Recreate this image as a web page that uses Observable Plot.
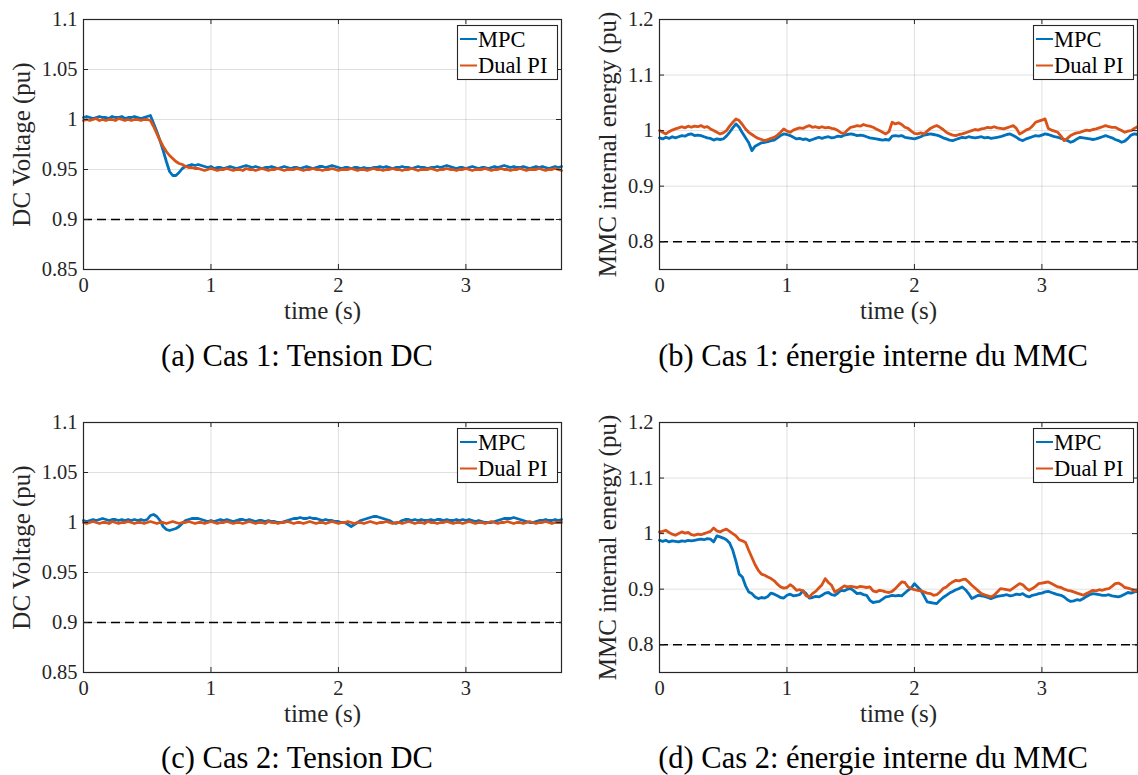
<!DOCTYPE html>
<html>
<head>
<meta charset="utf-8">
<script src="https://cdn.jsdelivr.net/npm/d3@7"></script>
<script src="https://cdn.jsdelivr.net/npm/@observablehq/plot@0.6"></script>
<style>
  html, body { margin: 0; padding: 0; background: #fff; }
  body { width: 1138px; height: 775px; position: relative; overflow: hidden; font-family: "Liberation Serif", serif; }
  .panel { position: absolute; width: 569px; height: 330px; }
  .caption { position: absolute; font-size: 30.5px; line-height: 34px; color: #000; white-space: nowrap; transform: translate(-50%, -50%); }
</style>
</head>
<body>
<script>
// ---------- data (sampled every 0.025 s, t = 0 … 3.75 s) ----------
const sampleStep = 0.025;
const seriesNames = ["MPC", "Dual PI"];
const seriesColors = ["#0072BD", "#D95319"];
const timeTicks = [0, 1, 2, 3];
const voltageTicks = [0.85, 0.9, 0.95, 1, 1.05, 1.1];
const energyTicks = [0.8, 0.9, 1, 1.1, 1.2];
const voltageLimit = 0.9;
const energyLimit = 0.8;
const captions = [
  "(a) Cas 1: Tension DC",
  "(b) Cas 1: énergie interne du MMC",
  "(c) Cas 2: Tension DC",
  "(d) Cas 2: énergie interne du MMC"
];

// (a) Cas 1 – DC voltage
const case1VoltageMPC = [
  1.002,1.003,1.002,1.001,1.002,1.003,1.002,1.002,1.001,1.003,
  1.002,1.002,1.003,1.001,1.002,1.002,1.003,1.002,1.001,1.002,
  1.003,1.004,0.996,0.988,0.979,0.969,0.958,0.948,0.944,0.944,
  0.947,0.951,0.953,0.954,0.955,0.954,0.955,0.954,0.953,
  0.952,0.953,0.951,0.952,0.952,0.951,0.952,0.953,0.952,0.951,
  0.952,0.953,0.954,0.953,0.952,0.953,0.952,0.951,0.952,0.952,
  0.953,0.952,0.951,0.952,0.953,0.952,0.951,0.952,0.952,0.951,
  0.952,0.953,0.952,0.951,0.952,0.953,0.953,0.952,0.953,0.954,
  0.953,0.952,0.951,0.952,0.952,0.951,0.952,0.952,0.951,0.952,
  0.951,0.951,0.952,0.952,0.953,0.952,0.953,0.952,0.951,0.952,
  0.952,0.953,0.952,0.952,0.951,0.952,0.953,0.952,0.952,0.951,
  0.952,0.952,0.953,0.952,0.953,0.954,0.953,0.952,0.951,0.952,
  0.952,0.951,0.952,0.953,0.952,0.951,0.952,0.952,0.951,0.952,
  0.953,0.952,0.953,0.954,0.953,0.952,0.953,0.952,0.952,0.953,
  0.952,0.951,0.952,0.953,0.952,0.953,0.952,0.951,0.952,0.953,
  0.952,0.953
];
const case1VoltageDualPI = [
  0.999,1.000,0.999,1.000,1.001,0.999,1.000,0.999,1.000,1.000,
  0.999,1.001,1.000,0.999,1.000,0.999,1.000,1.000,0.999,1.000,1.000,
  0.999,0.993,0.986,0.979,0.973,0.968,0.964,0.961,0.958,0.956,0.955,0.953,0.952,0.952,0.951,0.951,
  0.950,0.949,0.950,0.951,0.950,0.949,0.950,0.950,0.951,0.950,
  0.949,0.950,0.950,0.949,0.951,0.950,0.950,0.949,0.950,0.951,
  0.950,0.949,0.950,0.950,0.951,0.950,0.949,0.950,0.950,0.950,
  0.951,0.950,0.949,0.950,0.950,0.951,0.950,0.950,0.949,0.950,
  0.950,0.951,0.950,0.949,0.950,0.950,0.950,0.951,0.950,0.949,
  0.950,0.950,0.949,0.950,0.951,0.950,0.950,0.949,0.950,0.950,
  0.951,0.950,0.950,0.949,0.950,0.950,0.951,0.950,0.949,0.950,
  0.950,0.950,0.951,0.950,0.949,0.950,0.950,0.951,0.950,0.950,
  0.949,0.950,0.950,0.951,0.950,0.949,0.950,0.950,0.950,0.951,
  0.950,0.949,0.950,0.950,0.951,0.950,0.950,0.949,0.950,0.950,
  0.951,0.950,0.949,0.950,0.950,0.950,0.951,0.950,0.949,0.950,
  0.950,0.951,0.950,0.949
];

// (b) Cas 1 – MMC internal energy
const case1EnergyMPC = [
  0.987,0.985,0.988,0.986,0.989,0.987,0.989,0.991,0.990,0.993,
  0.994,0.991,0.992,0.991,0.989,0.987,0.986,0.983,0.985,0.984,
  0.985,0.990,0.997,1.005,1.012,1.006,0.996,0.987,0.978,0.964,
  0.972,0.975,0.978,0.979,0.980,0.982,0.983,0.987,0.991,0.994,
  0.993,0.991,0.988,0.985,0.986,0.984,0.985,0.982,0.984,0.986,
  0.988,0.986,0.988,0.989,0.987,0.988,0.990,0.989,0.992,0.993,
  0.994,0.993,0.991,0.992,0.991,0.989,0.987,0.986,0.985,0.984,
  0.983,0.984,0.983,0.990,0.991,0.990,0.991,0.988,0.987,0.986,
  0.985,0.987,0.989,0.992,0.993,0.994,0.993,0.992,0.990,0.987,
  0.985,0.983,0.982,0.984,0.986,0.988,0.987,0.989,0.988,0.987,
  0.988,0.989,0.987,0.988,0.986,0.987,0.988,0.989,0.991,0.993,
  0.994,0.991,0.988,0.984,0.982,0.985,0.987,0.989,0.991,0.990,
  0.992,0.994,0.993,0.991,0.989,0.988,0.986,0.984,0.982,0.979,
  0.981,0.985,0.988,0.987,0.986,0.985,0.984,0.985,0.987,0.989,
  0.991,0.989,0.987,0.984,0.982,0.979,0.981,0.986,0.992,0.994,
  0.993
];
const case1EnergyDualPI = [
  1.000,0.997,0.994,0.998,1.001,1.003,1.005,1.007,1.005,1.008,
  1.006,1.008,1.007,1.009,1.006,1.007,1.003,1.000,0.997,0.994,
  0.996,1.000,1.008,1.015,1.021,1.018,1.011,1.003,0.997,0.993,
  0.989,0.986,0.984,0.982,0.984,0.986,0.988,0.992,0.997,1.003,
  0.999,0.997,1.001,1.003,1.005,1.004,1.007,1.009,1.006,1.007,
  1.005,1.007,1.005,1.006,1.004,1.003,1.000,0.996,0.995,1.001,
  1.006,1.007,1.009,1.008,1.011,1.009,1.008,1.006,1.003,1.000,
  0.997,0.994,0.998,1.015,1.012,1.014,1.011,1.006,1.004,0.999,
  0.995,0.994,0.996,0.994,0.999,1.004,1.007,1.009,1.006,1.002,
  0.997,0.994,0.992,0.991,0.993,0.994,0.996,0.998,1.000,1.002,
  1.001,1.003,1.004,1.006,1.005,1.007,1.005,1.004,1.003,1.005,
  1.007,1.009,1.004,0.994,0.997,1.001,1.003,1.008,1.015,1.017,
  1.019,1.021,1.004,1.001,0.999,0.997,0.990,0.982,0.986,0.991,
  0.994,0.996,0.997,0.999,1.001,1.000,1.002,1.003,1.005,1.007,
  1.009,1.007,1.006,1.006,1.003,1.000,0.997,0.999,1.000,1.004,
  1.007
];

// (c) Cas 2 – DC voltage
const case2VoltageMPC = [
  1.002,1.001,1.002,1.003,1.002,1.003,1.004,1.003,1.002,1.003,
  1.003,1.002,1.003,1.002,1.003,1.002,1.003,1.002,1.003,1.002,
  1.003,1.007,1.008,1.006,1.002,0.996,0.993,0.992,0.993,0.994,
  0.996,0.999,1.002,1.003,1.004,1.004,1.004,1.003,1.002,1.001,
  1.002,1.001,1.002,1.003,1.002,1.003,1.002,1.001,1.002,1.003,
  1.003,1.002,1.003,1.002,1.001,1.002,1.002,1.001,1.002,1.001,
  1.001,1.000,1.000,1.001,1.002,1.003,1.004,1.004,1.005,1.004,
  1.004,1.005,1.004,1.004,1.003,1.002,1.003,1.002,1.002,1.001,
  1.001,1.000,1.000,0.998,0.996,0.998,1.000,1.002,1.003,1.004,
  1.005,1.006,1.006,1.005,1.004,1.003,1.002,1.000,0.999,1.000,
  1.002,1.003,1.003,1.002,1.003,1.002,1.003,1.002,1.002,1.003,
  1.002,1.003,1.003,1.002,1.003,1.002,1.002,1.003,1.002,1.003,
  1.002,1.003,1.002,1.001,1.002,1.001,1.000,1.000,1.000,1.001,
  1.002,1.003,1.004,1.004,1.004,1.005,1.004,1.003,1.002,1.001,
  1.000,1.000,1.001,1.002,1.002,1.003,1.002,1.002,1.003,1.002,
  1.003
];
const case2VoltageDualPI = [
  1.000,0.999,1.000,1.001,1.000,0.999,1.000,1.000,0.999,1.001,
  1.000,0.999,1.000,1.000,1.001,1.000,0.999,1.000,1.000,0.999,
  1.000,1.001,1.000,0.999,1.000,1.000,0.999,1.000,1.001,1.000,
  0.999,1.000,1.000,1.001,1.000,0.999,1.000,1.000,0.999,1.000,
  1.001,1.000,0.999,1.000,1.000,1.001,1.000,0.999,1.000,1.000,
  0.999,1.000,1.001,1.000,0.999,1.000,1.000,0.999,1.001,1.000,
  1.000,0.999,1.000,1.000,1.001,1.000,0.999,1.000,1.000,0.999,
  1.000,1.001,1.000,0.999,1.000,1.000,0.999,1.000,1.001,1.000,
  0.999,1.000,1.000,1.001,1.000,0.999,1.000,1.000,0.999,1.000,
  1.001,1.000,0.999,1.000,1.000,1.001,1.000,0.999,1.000,1.000,
  0.999,1.000,1.001,1.000,0.999,1.000,1.000,0.999,1.001,1.000,
  1.000,0.999,1.000,1.000,1.001,1.000,0.999,1.000,1.000,0.999,
  1.000,1.001,1.000,0.999,1.000,1.000,0.999,1.000,1.001,1.000,
  0.999,1.000,1.000,1.001,1.000,0.999,1.000,1.000,0.999,1.000,
  1.001,1.000,0.999,1.000,1.000,1.001,1.000,0.999,1.000,1.000,
  1.000
];

// (d) Cas 2 – MMC internal energy
const case2EnergyMPC = [
  0.988,0.986,0.988,0.985,0.987,0.986,0.985,0.987,0.986,0.988,
  0.987,0.988,0.989,0.990,0.989,0.991,0.990,0.985,0.996,0.994,
  0.992,0.989,0.983,0.970,0.950,0.927,0.922,0.906,0.895,0.892,
  0.886,0.883,0.885,0.884,0.887,0.893,0.891,0.888,0.885,0.884,
  0.889,0.891,0.888,0.889,0.890,0.897,0.892,0.884,0.885,0.887,
  0.886,0.889,0.893,0.894,0.890,0.889,0.893,0.898,0.897,0.900,
  0.901,0.897,0.892,0.893,0.890,0.889,0.880,0.876,0.877,0.878,
  0.882,0.886,0.887,0.889,0.888,0.889,0.888,0.893,0.898,0.902,
  0.910,0.904,0.898,0.888,0.877,0.876,0.875,0.874,0.880,0.885,
  0.889,0.893,0.896,0.899,0.901,0.904,0.899,0.892,0.883,0.886,
  0.889,0.888,0.887,0.885,0.883,0.885,0.887,0.888,0.889,0.890,
  0.888,0.889,0.891,0.890,0.892,0.888,0.886,0.889,0.890,0.892,
  0.893,0.895,0.896,0.894,0.892,0.890,0.889,0.886,0.881,0.878,
  0.879,0.881,0.880,0.883,0.887,0.890,0.892,0.891,0.890,0.889,
  0.889,0.890,0.888,0.887,0.886,0.888,0.891,0.894,0.893,0.895,
  0.896
];
const case2EnergyDualPI = [
  1.003,1.004,1.006,1.002,0.999,0.997,1.000,1.003,1.001,1.002,
  0.998,0.997,0.999,0.998,1.000,1.002,1.004,1.010,1.005,1.003,
  1.006,1.008,1.004,1.000,0.996,0.989,0.987,0.984,0.970,0.957,
  0.944,0.934,0.927,0.925,0.922,0.919,0.915,0.909,0.904,0.902,
  0.903,0.908,0.904,0.898,0.899,0.897,0.888,0.886,0.892,0.896,
  0.902,0.908,0.919,0.912,0.907,0.895,0.898,0.902,0.906,0.904,
  0.905,0.904,0.903,0.905,0.904,0.903,0.904,0.897,0.895,0.898,
  0.897,0.895,0.894,0.896,0.901,0.907,0.913,0.912,0.904,0.901,
  0.899,0.898,0.897,0.895,0.893,0.892,0.889,0.890,0.895,0.901,
  0.904,0.909,0.913,0.916,0.915,0.917,0.918,0.913,0.907,0.902,
  0.897,0.892,0.890,0.888,0.886,0.889,0.895,0.901,0.900,0.899,
  0.898,0.902,0.906,0.910,0.908,0.902,0.898,0.901,0.905,0.910,
  0.911,0.912,0.913,0.910,0.907,0.904,0.903,0.900,0.898,0.897,
  0.895,0.893,0.891,0.889,0.892,0.895,0.898,0.897,0.899,0.898,
  0.900,0.901,0.905,0.910,0.911,0.908,0.903,0.902,0.900,0.897,
  0.896
];

// ---------- drawing ----------
const FONT = "Liberation Serif";
const AX = "#262626";
const W = 569, H = 330, MT = 19, MB = 61;
const fmt = d => String(d);

function makePanel({mpc, dual, yDomain, yTicks, limit, yLabel, col, row, caption}) {
  const mL = col === 0 ? 83 : 90;
  const mR = col === 0 ? 8 : 1;
  const plotW = W - mL - mR, plotH = H - MT - MB;
  const rowsMPC = mpc.map((v, i) => ({t: i * sampleStep, v}));
  const rowsDual = dual.map((v, i) => ({t: i * sampleStep, v}));
  const tick = 5;
  const plot = Plot.plot({
    width: W, height: H,
    marginTop: MT, marginBottom: MB, marginLeft: mL, marginRight: mR,
    x: {domain: [0, 3.75]},
    y: {domain: yDomain},
    style: {fontFamily: FONT, fontSize: "20.5px", color: AX, background: "white", overflow: "visible"},
    marks: [
      Plot.gridX(timeTicks, {stroke: "#000", strokeOpacity: 0.12, strokeWidth: 1}),
      Plot.gridY(yTicks, {stroke: "#000", strokeOpacity: 0.12, strokeWidth: 1}),
      Plot.ruleY([limit], {stroke: "#000", strokeWidth: 1.6, strokeDasharray: "9,5"}),
      Plot.line(rowsMPC, {x: "t", y: "v", stroke: seriesColors[0], strokeWidth: 2.8}),
      Plot.line(rowsDual, {x: "t", y: "v", stroke: seriesColors[1], strokeWidth: 2.8}),
      Plot.tickX(timeTicks, {x: d => d, insetTop: plotH - tick, stroke: AX}),
      Plot.tickX(timeTicks, {x: d => d, insetBottom: plotH - tick, stroke: AX}),
      Plot.tickY(yTicks, {y: d => d, insetRight: plotW - tick, stroke: AX}),
      Plot.tickY(yTicks, {y: d => d, insetLeft: plotW - tick, stroke: AX}),
      Plot.frame({stroke: AX, strokeWidth: 1.2}),
      Plot.axisX(timeTicks, {tickSize: 0, tickPadding: 8, label: null, fontSize: 20.5, fill: AX, tickFormat: fmt}),
      Plot.axisY(yTicks, {tickSize: 0, tickPadding: 6, label: null, fontSize: 20.5, fill: AX, tickFormat: fmt}),
      Plot.text([yLabel], {frameAnchor: "left", textAnchor: "middle", rotate: -90, dx: col === 0 ? -62 : -52, fontSize: 25, fill: AX}),
      Plot.text(["time (s)"], {frameAnchor: "bottom", textAnchor: "middle", dy: 49, fontSize: 25, fill: AX})
    ]
  });

  // legend (MATLAB-style box, top-right inside the axes)
  const svg = d3.select(plot.tagName.toLowerCase() === "svg" ? plot : plot.querySelector("svg"));
  const boxW = 100, boxH = 54;
  const bx = W - mR - 4 - boxW, by = MT + 6;
  const g = svg.append("g").attr("font-family", FONT).attr("font-size", 22.5).attr("text-anchor", "start");
  g.append("rect").attr("x", bx + 0.5).attr("y", by + 0.5).attr("width", boxW).attr("height", boxH)
    .attr("fill", "white").attr("stroke", AX).attr("stroke-width", 1.1);
  seriesNames.forEach((name, k) => {
    const yy = by + 14 + k * 26.5;
    g.append("line").attr("x1", bx + 3).attr("x2", bx + 20).attr("y1", yy).attr("y2", yy)
      .attr("stroke", seriesColors[k]).attr("stroke-width", 2);
    g.append("text").attr("x", bx + 21).attr("y", yy).attr("dy", "0.35em")
      .attr("text-anchor", "start").attr("fill", "#000").text(name);
  });

  const div = document.createElement("div");
  div.className = "panel";
  div.style.left = (col * 569) + "px";
  div.style.top = (row * 403) + "px";
  div.appendChild(plot);
  document.body.appendChild(div);

  const cap = document.createElement("div");
  cap.className = "caption";
  cap.textContent = caption;
  cap.style.left = (col === 0 ? 297 : 873) + "px";
  cap.style.top = (row === 0 ? 356 : 758) + "px";
  document.body.appendChild(cap);
}

makePanel({mpc: case1VoltageMPC, dual: case1VoltageDualPI, yDomain: [0.85, 1.1], yTicks: voltageTicks,
  limit: voltageLimit, yLabel: "DC Voltage (pu)", col: 0, row: 0, caption: captions[0]});
makePanel({mpc: case1EnergyMPC, dual: case1EnergyDualPI, yDomain: [0.75, 1.2], yTicks: energyTicks,
  limit: energyLimit, yLabel: "MMC internal energy (pu)", col: 1, row: 0, caption: captions[1]});
makePanel({mpc: case2VoltageMPC, dual: case2VoltageDualPI, yDomain: [0.85, 1.1], yTicks: voltageTicks,
  limit: voltageLimit, yLabel: "DC Voltage (pu)", col: 0, row: 1, caption: captions[2]});
makePanel({mpc: case2EnergyMPC, dual: case2EnergyDualPI, yDomain: [0.75, 1.2], yTicks: energyTicks,
  limit: energyLimit, yLabel: "MMC internal energy (pu)", col: 1, row: 1, caption: captions[3]});
</script>
</body>
</html>
